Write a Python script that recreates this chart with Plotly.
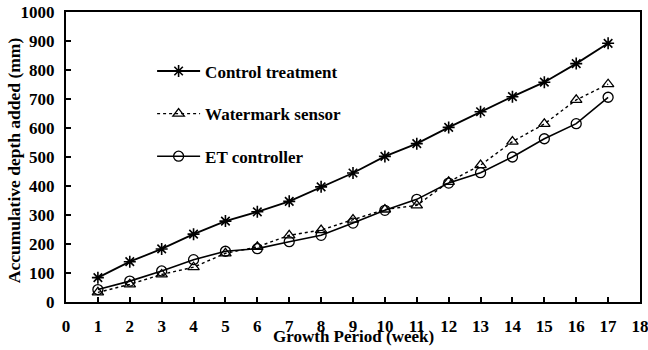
import plotly.graph_objects as go

weeks = list(range(1, 18))
control = [84, 139, 183, 234, 279, 311, 347, 397, 445, 502, 546, 602, 656, 708, 758, 822, 892]
watermark = [33, 61, 95, 120, 168, 190, 230, 248, 284, 319, 333, 414, 472, 553, 614, 697, 751]
et = [43, 72, 107, 146, 175, 184, 208, 230, 272, 316, 354, 410, 446, 500, 563, 615, 706]

x_ticks = list(range(0, 19))
y_ticks = list(range(0, 1001, 100))

FONT = "Liberation Serif, Times New Roman, serif"

fig = go.Figure()
fig.add_trace(go.Scatter(
    x=weeks, y=control, name="Control treatment", mode="lines+markers",
    line=dict(color="black", width=1.8),
    marker=dict(symbol="asterisk-open", size=10, color="black", line=dict(width=1.6, color="black")),
    legendgroup="a"))
fig.add_trace(go.Scatter(
    x=weeks, y=watermark, name="Watermark sensor", mode="lines+markers",
    line=dict(color="black", width=1.4, dash="dot"),
    marker=dict(symbol="triangle-up-open", size=10, color="black", line=dict(width=1.3, color="black")),
    legendgroup="b"))
fig.add_trace(go.Scatter(
    x=weeks, y=et, name="ET controller", mode="lines+markers",
    line=dict(color="black", width=1.6),
    marker=dict(symbol="circle-open", size=10, color="black", line=dict(width=1.3, color="black")),
    legendgroup="c"))

fig.update_layout(
    width=648, height=350,
    margin=dict(l=66, r=8, t=12, b=48),
    plot_bgcolor="white", paper_bgcolor="white",
    font=dict(family=FONT, color="black", size=16),
    showlegend=True,
    legend=dict(x=0.15, y=0.857, xanchor="left", yanchor="top",
                bgcolor="rgba(0,0,0,0)", tracegroupgap=17.5, itemwidth=43,
                font=dict(family=FONT, size=17, weight="bold", color="black"),
                traceorder="grouped"),
    xaxis=dict(range=[0, 18], tickvals=x_ticks, ticktext=[str(v) for v in x_ticks],
               ticks="inside", ticklen=5, tickwidth=1.5, tickcolor="black",
               showline=True, linecolor="black", linewidth=2, mirror=True,
               showgrid=False, zeroline=False, ticklabelstandoff=8, automargin=False,
               ticklabeloverflow="allow",
               tickfont=dict(family=FONT, size=17, weight="bold", color="black")),
    yaxis=dict(range=[0, 1000], tickvals=y_ticks,
               ticks="inside", ticklen=5, tickwidth=1.5, tickcolor="black",
               showline=True, linecolor="black", linewidth=2, mirror=True,
               showgrid=False, zeroline=False, ticklabelstandoff=6, automargin=False,
               ticklabeloverflow="allow",
               tickfont=dict(family=FONT, size=17, weight="bold", color="black")),
    annotations=[
        dict(text="Growth Period (week)", xref="paper", yref="paper", x=0.5, y=-0.12,
             xanchor="center", yanchor="middle", showarrow=False,
             font=dict(family=FONT, size=17, weight="bold", color="black")),
        dict(text="Accumulative depth added (mm)", xref="paper", yref="paper", x=-0.09, y=0.49,
             xanchor="center", yanchor="middle", showarrow=False, textangle=-90,
             font=dict(family=FONT, size=17.5, weight="bold", color="black")),
    ],
)

fig.write_html("out.html", config={"displayModeBar": False},
               post_script="document.body.style.margin='0';")
